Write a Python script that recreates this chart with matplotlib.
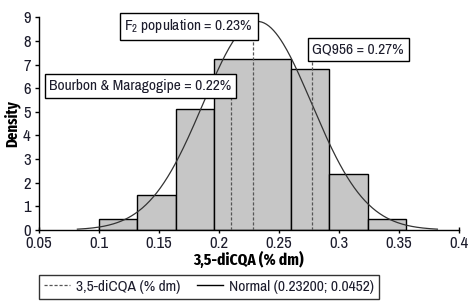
import numpy as np
import matplotlib
matplotlib.use("Agg")
import matplotlib.pyplot as plt
from matplotlib.lines import Line2D

# Data
bin_edges = [0.1, 0.132, 0.164, 0.196, 0.26, 0.292, 0.324, 0.356]
densities = [0.45, 1.48, 5.12, 7.22, 6.8, 2.35, 0.45]
norm_mean = 0.232
norm_sd = 0.0452
ref_labels = ["Bourbon & Maragogipe = 0.22%", "F$_2$ population = 0.23%", "GQ956 = 0.27%"]
ref_x = [0.2103, 0.2283, 0.2778]
ref_top = [5.6, 8.2, 7.2]
x_ticks = [0.05, 0.1, 0.15, 0.2, 0.25, 0.3, 0.35, 0.4]
y_ticks = list(range(0, 10))

plt.rcParams['font.family'] = ["Archivo Narrow", "DejaVu Sans"]
plt.rcParams['mathtext.default'] = 'regular'
bold_font = ["Fira Sans Extra Condensed", "DejaVu Sans"]
tc = "#1c1c2c"

fig = plt.figure(figsize=(4.75, 3.02), dpi=100)
ax = fig.add_axes([0.0821, 0.2384, 0.8842, 0.7043])

lefts = np.array(bin_edges[:-1])
widths = np.diff(bin_edges)
ax.bar(lefts, densities, width=widths, align='edge', color="#c6c6c6",
       edgecolor="black", linewidth=1.0, zorder=2)

xs = np.linspace(norm_mean - 0.15, norm_mean + 0.15, 300)
ys = np.exp(-0.5 * ((xs - norm_mean) / norm_sd) ** 2) / (norm_sd * np.sqrt(2 * np.pi))
ax.plot(xs, ys, color="#333333", linewidth=0.9, zorder=3)

for xv, top in zip(ref_x, ref_top):
    ax.plot([xv, xv], [0, top], color="#555555", linewidth=0.9,
            linestyle=(0, (2.5, 1.5)), zorder=3)

box = dict(boxstyle="square,pad=0.3", facecolor="white", edgecolor="black", linewidth=1.0)
ax.text(ref_x[0], 6.1, ref_labels[0], ha="right", va="center", fontsize=11.2,
        color=tc, bbox=box, zorder=5)
ax.text(ref_x[1], 8.62, ref_labels[1], ha="right", va="center", fontsize=11.2,
        color=tc, bbox=box, zorder=5)
ax.text(ref_x[2], 7.63, ref_labels[2], ha="left", va="center", fontsize=11.2,
        color=tc, bbox=box, zorder=5)

ax.set_xlim(0.05, 0.4)
ax.set_ylim(0, 9)
ax.set_xticks(x_ticks)
ax.set_xticklabels([f"{v:g}" for v in x_ticks])
ax.set_yticks(y_ticks)
for s in ["top", "right"]:
    ax.spines[s].set_visible(False)
for s in ["left", "bottom"]:
    ax.spines[s].set_linewidth(1.0)
ax.tick_params(axis='x', direction='inout', length=5, width=1, labelsize=12,
               labelcolor=tc, pad=2)
ax.tick_params(axis='y', direction='out', length=3, width=1, labelsize=12,
               labelcolor=tc, pad=3)
ax.set_xlabel("3,5-diCQA (% dm)", fontsize=12, fontweight="bold", color="black",
              family=bold_font, va="center")
ax.set_ylabel("Density", fontsize=11.5, fontweight="bold", color="black",
              family=bold_font, va="center")
ax.xaxis.set_label_coords(0.5, -0.141)
ax.yaxis.set_label_coords(-0.065, 0.5)

handles = [Line2D([], [], color="#555555", linestyle=(0, (2.5, 1.5)), linewidth=0.9),
           Line2D([], [], color="black", linewidth=1.0)]
leg = fig.legend(handles, ["3,5-diCQA (% dm)", "Normal (0.23200; 0.0452)"],
                 loc="lower left", bbox_to_anchor=(39/475, 1 - 298.5/302),
                 ncol=2, frameon=True, fancybox=False, fontsize=11.2,
                 handlelength=1.7, handletextpad=0.35, columnspacing=1.1,
                 borderpad=0.3, borderaxespad=0, labelcolor=tc)
leg.get_frame().set_edgecolor("black")
leg.get_frame().set_linewidth(1.0)

fig.savefig("out.png", dpi=100)
